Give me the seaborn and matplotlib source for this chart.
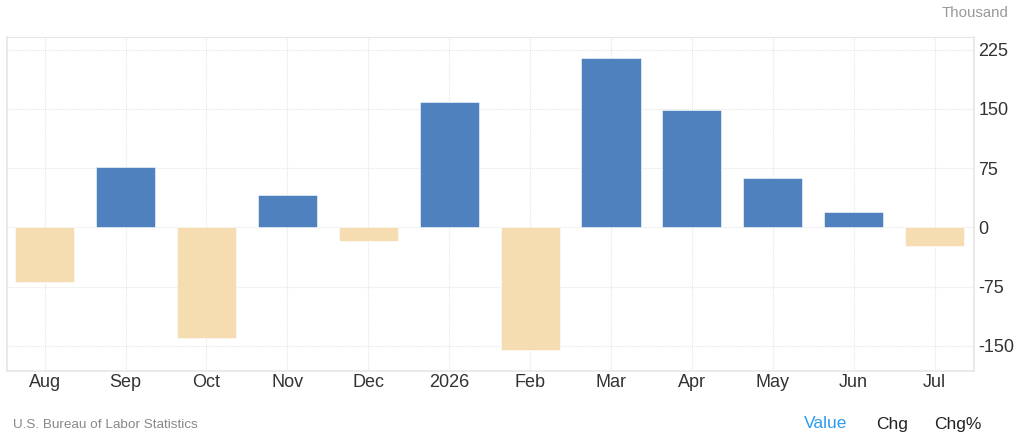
import matplotlib
matplotlib.use("Agg")
import matplotlib.pyplot as plt
import pandas as pd
import seaborn as sns

# -----------------------------
# data (thousand)
# -----------------------------
months = ["Aug", "Sep", "Oct", "Nov", "Dec", "2026",
          "Feb", "Mar", "Apr", "May", "Jun", "Jul"]
values = [-69, 76, -140, 41, -17, 159, -155, 214, 148, 63, 19, -24]
y_ticks = [-150, -75, 0, 75, 150, 225]

df = pd.DataFrame({"month": months, "value": values})
df["sign"] = ["up" if v >= 0 else "down" for v in df["value"]]

sns.set_theme(style="white")
plt.rcParams["font.family"] = ["Liberation Sans", "DejaVu Sans"]

fig = plt.figure(figsize=(10.24, 4.38), dpi=100)
ax = fig.add_axes([7 / 1024, 1 - 371 / 438, 967 / 1024, 334 / 438])

sns.barplot(
    data=df, x="month", y="value", hue="sign",
    palette={"up": "#4e81bd", "down": "#f5ddb1"},
    dodge=False, width=0.73, legend=False, ax=ax, saturation=1,
    edgecolor="#ffffff", linewidth=0.4, zorder=3,
)

ax.set_xlim(-0.466, 11.487)
ax.set_ylim(-182, 241)
ax.set_yticks(y_ticks)
ax.set_yticklabels([str(t) for t in y_ticks])
ax.yaxis.tick_right()
ax.tick_params(axis="y", length=0, pad=3, labelsize=13, labelcolor="#333333")
ax.tick_params(axis="x", length=0, pad=2, labelsize=13, labelcolor="#333333")
ax.set_xlabel("")
ax.set_ylabel("")

ax.grid(True, axis="both", color="#e6e6e6", linestyle=(0, (1, 1)), linewidth=0.8, zorder=0)
ax.set_axisbelow(True)

for side in ["left", "right", "bottom"]:
    ax.spines[side].set_visible(True)
    ax.spines[side].set_color("#e6e6e6")
    ax.spines[side].set_linewidth(1.2)
ax.spines["top"].set_visible(True)
ax.spines["top"].set_color("#e6e6e6")
ax.spines["top"].set_linestyle((0, (1, 1)))
ax.spines["top"].set_linewidth(0.8)

# -----------------------------
# labels around the chart
# -----------------------------
fig.text(1008 / 1024, 1 - 13 / 438, "Thousand", ha="right", va="center",
         fontsize=10.8, color="#999999")
fig.text(13 / 1024, 1 - 425 / 438, "U.S. Bureau of Labor Statistics",
         ha="left", va="center", fontsize=9.7, color="#888888")
fig.text(804 / 1024, 1 - 424 / 438, "Value", ha="left", va="center",
         fontsize=12.5, color="#2d9cf0")
fig.text(876 / 1024, 1 - 424 / 438, "Chg", ha="left", va="center",
         fontsize=12.5, color="#222222")
fig.text(934 / 1024, 1 - 424 / 438, "Chg%", ha="left", va="center",
         fontsize=12.5, color="#222222")

fig.savefig("out.png", dpi=100)
